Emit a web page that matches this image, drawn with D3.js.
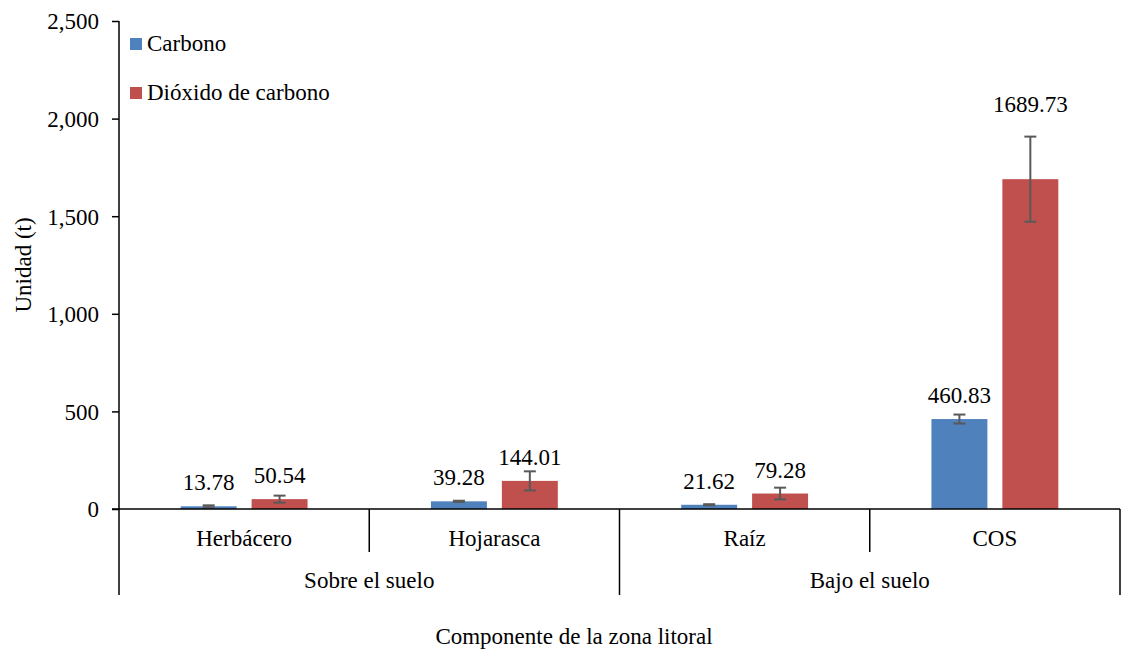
<!DOCTYPE html>
<html>
<head>
<meta charset="utf-8">
<script src="https://cdn.jsdelivr.net/npm/d3@7"></script>
<style>
  body { margin: 0; background: #fff; font-family: 'Liberation Serif', serif; }
  #chart text { font-family: 'Liberation Serif', serif; }
</style>
</head>
<body>
<svg id="chart" width="1121" height="651" font-family="Liberation Serif" style="display:block"></svg>
<script>
// ---- Data ----
const categories = ["Herbácero", "Hojarasca", "Raíz", "COS"];
const groups = ["Sobre el suelo", "Bajo el suelo"];
const groupOf = ["Sobre el suelo", "Sobre el suelo", "Bajo el suelo", "Bajo el suelo"];
const seriesNames = ["Carbono", "Dióxido de carbono"];
const carbono = [13.78, 39.28, 21.62, 460.83];
const dioxido = [50.54, 144.01, 79.28, 1689.73];
const carbonoErr = [5, 3, 3, 23];
const dioxidoErr = [18, 49, 30, 218];
const yTicks = [0, 500, 1000, 1500, 2000, 2500];
const colors = ["#4F81BD", "#C0504D"];

const FS = 23;
const svg = d3.select("#chart");
const plotLeft = 119, plotRight = 1120, plotTop = 21, plotBase = 509;

function txt(sel) {
  return sel.attr("font-family", "Liberation Serif").style("font-family", "'Liberation Serif'")
    .attr("font-size", FS).attr("fill", "#000");
}

const y = d3.scaleLinear().domain([0, 2500]).range([plotBase, plotTop]);
const x0 = d3.scaleBand().domain(categories).range([plotLeft, plotRight]).paddingInner(0).paddingOuter(0);
const bw = x0.bandwidth();
const x1 = d3.scaleBand().domain(seriesNames).range([bw * 0.2465, bw * 0.7535]).paddingInner(0.211).paddingOuter(0);

const fmt = d3.format(",");

// Y axis
const yAxis = d3.axisLeft(y).tickValues(yTicks).tickFormat(fmt).tickSize(7).tickSizeOuter(0);
const gy = svg.append("g").attr("transform", `translate(${plotLeft},0)`).call(yAxis)
  .attr("font-family", "Liberation Serif");
gy.select(".domain").remove();
gy.selectAll(".tick line").attr("stroke", "#000").attr("stroke-width", 1.5);
txt(gy.selectAll(".tick text")).attr("x", -20).attr("dy", "0.34em");
svg.append("line").attr("x1", plotLeft).attr("x2", plotLeft).attr("y1", plotTop).attr("y2", 595)
  .attr("stroke", "#000").attr("stroke-width", 1.5);

// Bars
const data = categories.map((c, i) => ({
  cat: c,
  vals: [
    { s: seriesNames[0], v: carbono[i], e: carbonoErr[i], c: colors[0] },
    { s: seriesNames[1], v: dioxido[i], e: dioxidoErr[i], c: colors[1] }
  ]
}));

const cg = svg.append("g").selectAll("g").data(data).join("g")
  .attr("transform", d => `translate(${x0(d.cat)},0)`);

cg.selectAll("rect").data(d => d.vals).join("rect")
  .attr("x", d => x1(d.s))
  .attr("width", x1.bandwidth())
  .attr("y", d => y(d.v))
  .attr("height", d => y(0) - y(d.v))
  .attr("fill", d => d.c);

// Error bars
const eg = cg.selectAll("g.err").data(d => d.vals).join("g").attr("class", "err");
const ecx = d => x1(d.s) + x1.bandwidth() / 2;
eg.append("line").attr("x1", ecx).attr("x2", ecx)
  .attr("y1", d => y(d.v + d.e)).attr("y2", d => y(d.v - d.e))
  .attr("stroke", "#595959").attr("stroke-width", 2);
eg.append("line").attr("x1", d => ecx(d) - 6).attr("x2", d => ecx(d) + 6)
  .attr("y1", d => y(d.v + d.e)).attr("y2", d => y(d.v + d.e))
  .attr("stroke", "#595959").attr("stroke-width", 2);
eg.append("line").attr("x1", d => ecx(d) - 6).attr("x2", d => ecx(d) + 6)
  .attr("y1", d => y(d.v - d.e)).attr("y2", d => y(d.v - d.e))
  .attr("stroke", "#595959").attr("stroke-width", 2);

// Data labels
txt(cg.selectAll("text.lbl").data(d => d.vals).join("text").attr("class", "lbl"))
  .attr("x", ecx)
  .attr("y", d => {
    const errPx = y(d.v) - y(d.v + d.e);
    return errPx > 30 ? y(d.v + d.e) - 25 : y(d.v) - 16;
  })
  .attr("text-anchor", "middle")
  .text(d => d3.format(".2f")(d.v));

// Category axis
svg.append("line").attr("x1", plotLeft - 7).attr("x2", plotRight).attr("y1", plotBase).attr("y2", plotBase)
  .attr("stroke", "#000").attr("stroke-width", 1.5);

categories.forEach((c, i) => {
  const xs = x0(c);
  const isGroupStart = i === 0 || groupOf[i] !== groupOf[i - 1];
  if (i > 0) {
    svg.append("line").attr("x1", xs).attr("x2", xs).attr("y1", plotBase)
      .attr("y2", isGroupStart ? 595 : 552)
      .attr("stroke", "#000").attr("stroke-width", 1.5);
  }
  txt(svg.append("text")).attr("x", xs + bw / 2).attr("y", 546)
    .attr("text-anchor", "middle").text(c);
});
svg.append("line").attr("x1", plotRight).attr("x2", plotRight).attr("y1", plotBase).attr("y2", 595)
  .attr("stroke", "#000").attr("stroke-width", 1.5);

groups.forEach(g => {
  const idx = categories.filter((c, i) => groupOf[i] === g);
  const gx0 = x0(idx[0]);
  const gx1 = x0(idx[idx.length - 1]) + bw;
  txt(svg.append("text")).attr("x", (gx0 + gx1) / 2).attr("y", 588)
    .attr("text-anchor", "middle").text(g);
});

// Axis titles
txt(svg.append("text")).attr("x", 574).attr("y", 644).attr("text-anchor", "middle")
  .text("Componente de la zona litoral");
txt(svg.append("text")).attr("transform", "translate(31,265) rotate(-90)")
  .attr("text-anchor", "middle").text("Unidad (t)");

// Legend
const lg = svg.append("g");
seriesNames.forEach((s, i) => {
  const ly = 38 + i * 49;
  lg.append("rect").attr("x", 130).attr("y", ly).attr("width", 12).attr("height", 12).attr("fill", colors[i]);
  txt(lg.append("text")).attr("x", 147).attr("y", ly + 13).text(s);
});
</script>
</body>
</html>
